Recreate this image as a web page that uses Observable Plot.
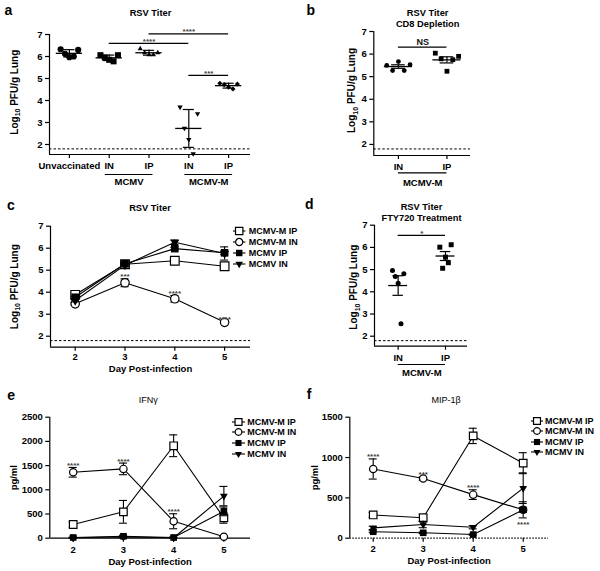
<!DOCTYPE html>
<html>
<head>
<meta charset="utf-8">
<script src="https://cdn.jsdelivr.net/npm/d3@7"></script>
<script src="https://cdn.jsdelivr.net/npm/@observablehq/plot@0.6"></script>
<style>
html,body{margin:0;padding:0;background:#fff;}
#fig{position:relative;width:600px;height:571px;background:#fff;overflow:hidden;font-family:Arial,"Liberation Sans",Helvetica,sans-serif;}
.panel{position:absolute;}
.panel svg{display:block;overflow:visible;}
.legend{position:absolute;font-size:9px;font-weight:bold;color:#000;font-family:Arial,"Liberation Sans",Helvetica,sans-serif;}
.legend .row{position:absolute;left:0;height:12px;line-height:12px;display:flex;align-items:center;white-space:nowrap;}
</style>
</head>
<body>
<div id="fig"></div>
<script>
// ================= DATA =================
const limitOfDetection = 1.8;

// Panel a — RSV titer (log10 PFU/g lung)
const aLabels = ["Unvaccinated", "IN", "IP", "IN", "IP"];
const aUnvaccinated = [6.33, 6.12, 5.97, 6.00, 6.30];
const aMCMV_IN = [6.06, 5.95, 5.85, 5.78, 6.06];
const aMCMV_IP = [6.35, 6.17, 6.08, 6.08, 6.17];
const aMCMVM_IN = [3.70, 2.74, 2.23, 1.58, 3.40];
const aMCMVM_IP = [4.78, 4.72, 4.60, 4.52, 4.75];
const aGroupLabels = ["MCMV", "MCMV-M"];
const aGroupFrom = [1, 3];
const aGroupTo = [2, 4];
const aSigFrom = [1, 2, 3];
const aSigTo = [3, 4, 4];
const aSigLevel = [6.6, 7.03, 5.14];
const aSigText = ["****", "****", "***"];

// Panel b — CD8 depletion
const bLabels = ["IN", "IP"];
const bIN = [5.50, 5.27, 5.67, 5.27, 5.53];
const bIP = [6.04, 5.79, 5.24, 5.75, 5.90];
const bSigLevel = [6.31];
const bSigText = ["NS"];

// Panel d — FTY720 treatment
const dLabels = ["IN", "IP"];
const dIN = [4.96, 4.69, 4.39, 2.56, 4.81];
const dIP = [6.01, 5.06, 5.56, 5.31, 6.12];
const dSigLevel = [6.54];
const dSigText = ["*"];

// Line panels
const days = [2, 3, 4, 5];
const seriesNames = ["MCMV-M IP", "MCMV-M IN", "MCMV IP", "MCMV IN"];

// Panel c — RSV titer by day (mean, error)
const cMMIP = [3.88, 5.27, 5.43, 5.18];
const cMMIPerr = [0.08, 0.07, 0.08, 0.08];
const cMMIN = [3.47, 4.43, 3.70, 2.63];
const cMMINerr = [0.05, 0.18, 0.15, 0.05];
const cMIP = [3.77, 5.29, 5.98, 5.79];
const cMIPerr = [0.05, 0.06, 0.06, 0.08];
const cMIN = [3.62, 5.23, 6.27, 5.76];
const cMINerr = [0.06, 0.05, 0.10, 0.30];
const cStarDay = [3, 4, 5];
const cStarText = ["***", "****", "****"];

// Panel e — IFNγ (pg/ml)
const eMMIP = [283, 545, 1910, 420];
const eMMIPerr = [55, 235, 225, 110];
const eMMIN = [1362, 1432, 350, 30];
const eMMINerr = [100, 120, 155, 10];
const eMIP = [15, 40, 15, 555];
const eMIPerr = [8, 20, 8, 90];
const eMIN = [10, 25, 10, 870];
const eMINerr = [5, 15, 5, 200];
const eStarDay = [2, 3, 4];
const eStarText = ["****", "****", "****"];

// Panel f — MIP-1β (pg/ml)
const fMMIP = [288, 253, 1268, 930];
const fMMIPerr = [30, 45, 95, 130];
const fMMIN = [858, 740, 540, 352];
const fMMINerr = [125, 20, 60, 100];
const fMIP = [80, 67, 45, 352];
const fMIPerr = [12, 10, 8, 30];
const fMIN = [128, 170, 136, 620];
const fMINerr = [20, 40, 20, 190];
const fStarDay = [2, 3, 4, 5];
const fStarText = ["****", "***", "****", "****"];
const fStarBelow = [false, false, false, true];

// ================= HELPERS =================
const FONT = 'Arial, "Liberation Sans", Helvetica, sans-serif';
const fig = document.getElementById("fig");
const baseStyle = {fontFamily: FONT, fontSize: "9.5px", fontWeight: "bold", overflow: "visible", color: "black", background: "transparent"};

function mount(node, left, top, width) {
  const d = document.createElement("div");
  d.className = "panel";
  d.style.left = left + "px";
  d.style.top = top + "px";
  d.style.width = width + "px";
  d.appendChild(node);
  fig.appendChild(d);
}

function fixLog(svg) {
  d3.select(svg).selectAll("text")
    .filter(function () { return this.textContent === "Log10 PFU/g Lung"; })
    .each(function () {
      const t = d3.select(this);
      t.text(null);
      t.append("tspan").text("Log");
      t.append("tspan").attr("dy", 2.6).attr("font-size", 7).text("10");
      t.append("tspan").attr("dy", -2.6).text(" PFU/g Lung");
    });
}

function frameText(text, o) {
  return Plot.text([text], {
    text: d => d, frameAnchor: o.anchor || "top", dx: o.dx || 0, dy: o.dy || 0,
    fontSize: o.size || 9.3, fontWeight: o.weight || "bold", textAnchor: "middle",
    lineAnchor: "middle", rotate: o.rotate || 0, fill: "black"
  });
}

function stats(values, kind) {
  const m = d3.mean(values), sd = d3.deviation(values);
  const e = kind === "sd" ? sd : sd / Math.sqrt(values.length);
  return {m, lo: m - e, hi: m + e};
}

function decor(p) {
  const marks = [];
  (p.titles || []).forEach(t => marks.push(frameText(t.text, {anchor: "top", dx: t.dx, dy: t.dy, size: t.size || 9.3, weight: t.weight || "bold"})));
  marks.push(frameText(p.letter.text, {anchor: "top-left", dx: p.letter.dx, dy: p.letter.dy, size: 14}));
  marks.push(frameText(p.ylabel.text, {anchor: "left", dx: p.ylabel.dx, dy: p.ylabel.dy, size: p.ylabel.size || 10, rotate: -90}));
  if (p.xlabel) marks.push(frameText(p.xlabel.text, {anchor: "bottom", dy: p.xlabel.dy, size: 9.5}));
  return marks;
}

function scatterPanel(p) {
  const x0 = p.xDomain[0], y0 = p.yDomain[0];
  const marks = [];
  marks.push(Plot.ruleY([limitOfDetection], {stroke: "black", strokeWidth: 1, strokeDasharray: "2.5,2"}));
  marks.push(Plot.ruleX([x0], {stroke: "black", strokeWidth: 1.2}));
  marks.push(Plot.ruleY([y0], {stroke: "black", strokeWidth: 1.2}));
  marks.push(Plot.axisX({ticks: d3.range(p.labels.length), tickFormat: i => p.labels[i], tickSize: 4, tickPadding: p.xPad, label: null, strokeWidth: 1.2}));
  marks.push(Plot.axisY({ticks: [2, 3, 4, 5, 6, 7], tickFormat: d3.format("d"), tickSize: 4, tickPadding: 3, label: null, strokeWidth: 1.2}));
  p.groups.forEach((gr, g) => {
    const n = gr.values.length;
    const pts = gr.values.map((v, j) => ({x: g + (j - (n - 1) / 2) * p.jitter, y: v}));
    marks.push(Plot.dot(pts, {x: "x", y: "y", symbol: gr.symbol, r: gr.r, fill: "black", rotate: gr.rotate || 0}));
  });
  p.groups.forEach((gr, g) => {
    const s = Object.assign({g}, stats(gr.values, p.err));
    marks.push(Plot.ruleY([s], {y: "m", x1: d => d.g - p.meanHalf, x2: d => d.g + p.meanHalf, stroke: "black", strokeWidth: 1.3}));
    marks.push(Plot.ruleX([s], {x: "g", y1: "lo", y2: "hi", stroke: "black", strokeWidth: 1.2}));
    marks.push(Plot.ruleY([s, s], {y: (d, i) => i ? d.hi : d.lo, x1: d => d.g - p.capHalf, x2: d => d.g + p.capHalf, stroke: "black", strokeWidth: 1.2}));
  });
  // significance bars
  marks.push(Plot.ruleY(p.sig, {y: "level", x1: "from", x2: "to", stroke: "black", strokeWidth: 1.2}));
  marks.push(Plot.text(p.sig, {x: d => (d.from + d.to) / 2, y: "level", text: "text", lineAnchor: "bottom", dy: p.sigDy, fontSize: p.sigSize, fontWeight: p.sigWeight, fill: p.sigFill}));
  // group spans under axis
  marks.push(Plot.ruleY(p.spans, {y: () => y0, x1: d => d.from - p.spanPad, x2: d => d.to + p.spanPad, dy: p.spanDy, stroke: "black", strokeWidth: 1.2}));
  marks.push(Plot.text(p.spans, {x: d => (d.from + d.to) / 2, y: () => y0, text: "label", dy: p.spanLabelDy, lineAnchor: "middle", fontSize: 9.5, fontWeight: "bold", fill: "black"}));
  marks.push(...decor(p));
  const svg = Plot.plot({
    width: p.width, height: p.height,
    marginLeft: p.mL, marginRight: p.mR, marginTop: p.mT, marginBottom: p.mB,
    x: {type: "linear", domain: p.xDomain, label: null},
    y: {type: "linear", domain: p.yDomain, label: null},
    style: baseStyle,
    marks
  });
  fixLog(svg);
  mount(svg, p.left, p.top, p.width);
}

const seriesStyle = [
  {symbol: "square", sym: d3.symbolSquare, r: 4.9, open: true, rotate: 0},
  {symbol: "circle", sym: d3.symbolCircle, r: 4.2, open: true, rotate: 0},
  {symbol: "square", sym: d3.symbolSquare, r: 4.3, open: false, rotate: 0},
  {symbol: "triangle", sym: d3.symbolTriangle, r: 3.3, open: false, rotate: 180}
];

function linePanel(p) {
  const y0 = p.yDomain[0], x0 = p.xDomain[0];
  const marks = [];
  marks.push(Plot.ruleX([x0], {stroke: "black", strokeWidth: 1.2}));
  if (p.baseline === "dotted") marks.push(Plot.ruleY([y0], {stroke: "black", strokeWidth: 1.2, strokeDasharray: "1.5,1.5"}));
  else marks.push(Plot.ruleY([y0], {stroke: "black", strokeWidth: 1.2}));
  if (p.lod) marks.push(Plot.ruleY([limitOfDetection], {stroke: "black", strokeWidth: 1, strokeDasharray: "2.5,2"}));
  marks.push(Plot.axisX({ticks: days, tickFormat: d3.format("d"), tickSize: 4, tickPadding: p.xPad, label: null, strokeWidth: 1.2}));
  marks.push(Plot.axisY({ticks: p.yTicks, tickFormat: d3.format("d"), tickSize: 4, tickPadding: 3, label: null, strokeWidth: 1.2}));
  const rows = p.series.map(s => days.map((day, i) => ({day, v: s.values[i], lo: s.values[i] - s.err[i], hi: s.values[i] + s.err[i]})));
  rows.forEach(r => marks.push(Plot.line(r, {x: "day", y: "v", stroke: "black", strokeWidth: 1.1})));
  rows.forEach((r, k) => {
    const st = seriesStyle[k];
    marks.push(Plot.ruleX(r, {x: "day", y1: "lo", y2: "hi", stroke: "black", strokeWidth: 1.1}));
    marks.push(Plot.ruleY(r, {y: "lo", x1: d => d.day - p.cap, x2: d => d.day + p.cap, stroke: "black", strokeWidth: 1.1}));
    marks.push(Plot.ruleY(r, {y: "hi", x1: d => d.day - p.cap, x2: d => d.day + p.cap, stroke: "black", strokeWidth: 1.1}));
    marks.push(Plot.dot(r, {x: "day", y: "v", symbol: st.symbol, r: st.r * p.ms, rotate: st.rotate,
      fill: st.open ? "white" : "black", stroke: st.open ? "black" : "none", strokeWidth: 1.2}));
  });
  // significance stars relative to MCMV-M IN error bars
  const ref = rows[1];
  const stars = p.starDay.map((day, i) => {
    const r = ref[days.indexOf(day)];
    const below = p.starBelow ? p.starBelow[i] : false;
    return {day, text: p.starText[i], below, y: below ? r.lo : r.hi};
  });
  marks.push(Plot.text(stars.filter(d => !d.below), {x: "day", y: "y", text: "text", lineAnchor: "bottom", dy: 0.5, fontSize: 8, fontWeight: "bold", fill: "#444"}));
  marks.push(Plot.text(stars.filter(d => d.below), {x: "day", y: "y", text: "text", lineAnchor: "top", dy: 3, fontSize: 8, fontWeight: "bold", fill: "#444"}));
  marks.push(...decor(p));
  const svg = Plot.plot({
    width: p.width, height: p.height,
    marginLeft: p.mL, marginRight: p.mR, marginTop: p.mT, marginBottom: p.mB,
    x: {type: "linear", domain: p.xDomain, label: null},
    y: {type: "linear", domain: p.yDomain, label: null},
    style: baseStyle,
    marks
  });
  fixLog(svg);
  mount(svg, p.left, p.top, p.width);
  legend(p.legend);
}

function legend(L) {
  const box = document.createElement("div");
  box.className = "legend";
  box.style.left = L.left + "px";
  box.style.top = L.top + "px";
  seriesNames.forEach((name, i) => {
    const st = seriesStyle[i];
    const row = document.createElement("div");
    row.className = "row";
    row.style.top = (i * L.spacing - 6) + "px";
    const svg = d3.create("svg").attr("width", L.textX).attr("height", 12).style("display", "block").style("overflow", "visible").style("flex", "none");
    svg.append("line").attr("x1", 0).attr("x2", 2 * L.markerX).attr("y1", 6).attr("y2", 6).attr("stroke", "black").attr("stroke-width", 1.1);
    const rr = st.r * L.ms;
    svg.append("path").attr("d", d3.symbol(st.sym, Math.PI * rr * rr)())
      .attr("transform", `translate(${L.markerX},6) rotate(${st.rotate})`)
      .attr("fill", st.open ? "white" : "black").attr("stroke", st.open ? "black" : "none").attr("stroke-width", 1.2);
    row.appendChild(svg.node());
    const span = document.createElement("span");
    span.textContent = name;
    row.appendChild(span);
    box.appendChild(row);
  });
  fig.appendChild(box);
}

// ================= PANELS =================
scatterPanel({
  left: 0, top: 0, width: 300, height: 190, mL: 49, mR: 50, mT: 34, mB: 36,
  xDomain: [-0.5, 4.55], yDomain: [1.545, 7], labels: aLabels, xPad: 3.5,
  groups: [
    {values: aUnvaccinated, symbol: "circle", r: 3.1},
    {values: aMCMV_IN, symbol: "square", r: 3.4},
    {values: aMCMV_IP, symbol: "triangle", r: 1.9},
    {values: aMCMVM_IN, symbol: "triangle", r: 2.0, rotate: 180},
    {values: aMCMVM_IP, symbol: "diamond2", r: 2.3}
  ],
  err: "sd", jitter: 0.11, meanHalf: 0.33, capHalf: 0.14,
  sig: aSigLevel.map((level, i) => ({level, from: aSigFrom[i], to: aSigTo[i], text: aSigText[i]})),
  sigDy: 0.5, sigSize: 8, sigWeight: "bold", sigFill: "#444",
  spans: aGroupLabels.map((label, i) => ({label, from: aGroupFrom[i], to: aGroupTo[i]})),
  spanPad: 0.1, spanDy: 20, spanLabelDy: 27.3,
  titles: [{text: "RSV Titer", dx: 0.5, dy: -21.2}],
  letter: {text: "a", dx: -41.2, dy: -23.5},
  ylabel: {text: "Log10 PFU/g Lung", dx: -35, dy: -2.3}
});

scatterPanel({
  left: 300, top: 0, width: 300, height: 190, mL: 73.3, mR: 130, mT: 31, mB: 35,
  xDomain: [-0.507, 1.485], yDomain: [1.51, 7], labels: bLabels, xPad: 3.7,
  groups: [
    {values: bIN, symbol: "circle", r: 2.4},
    {values: bIP, symbol: "square", r: 2.7}
  ],
  err: "sem", jitter: 0.12, meanHalf: 0.29, capHalf: 0.14,
  sig: bSigLevel.map((level, i) => ({level, from: 0, to: 1, text: bSigText[i]})),
  sigDy: -2.5, sigSize: 9, sigWeight: "bold", sigFill: "#111",
  spans: [{label: "MCMV-M", from: 0, to: 1}],
  spanPad: 0, spanDy: 17.3, spanLabelDy: 27,
  titles: [{text: "RSV Titer", dx: 5.5, dy: -18.2}, {text: "CD8 Depletion", dx: 5.5, dy: -7.5}],
  letter: {text: "b", dx: -63, dy: -21},
  ylabel: {text: "Log10 PFU/g Lung", dx: -21.6, dy: -3}
});

linePanel({
  left: 0, top: 190, width: 300, height: 190, mL: 50, mR: 50, mT: 35.7, mB: 33.3,
  xDomain: [1.504, 5.52], yDomain: [1.5, 7], yTicks: [2, 3, 4, 5, 6, 7], xPad: 1.8, lod: true,
  series: [
    {values: cMMIP, err: cMMIPerr}, {values: cMMIN, err: cMMINerr},
    {values: cMIP, err: cMIPerr}, {values: cMIN, err: cMINerr}
  ],
  ms: 1, cap: 0.08, starDay: cStarDay, starText: cStarText,
  titles: [{text: "RSV Titer", dx: -0.5, dy: -17.9}],
  letter: {text: "c", dx: -39.7, dy: -20.7},
  ylabel: {text: "Log10 PFU/g Lung", dx: -36, dy: 0},
  xlabel: {text: "Day Post-infection", dy: 21.8},
  legend: {left: 233.3, top: 230.7, spacing: 11.1, markerX: 6.2, textX: 15.4, ms: 0.85}
});

scatterPanel({
  left: 300, top: 190, width: 300, height: 190, mL: 74, mR: 133, mT: 34.7, mB: 34.3,
  xDomain: [-0.5, 1.465], yDomain: [1.55, 7], labels: dLabels, xPad: 3.6,
  groups: [
    {values: dIN, symbol: "circle", r: 2.5},
    {values: dIP, symbol: "square", r: 2.8}
  ],
  err: "sem", jitter: 0.06, meanHalf: 0.2, capHalf: 0.11,
  sig: dSigLevel.map((level, i) => ({level, from: 0, to: 1, text: dSigText[i]})),
  sigDy: 0.5, sigSize: 8, sigWeight: "bold", sigFill: "#444",
  spans: [{label: "MCMV-M", from: 0, to: 1}],
  spanPad: 0, spanDy: 18.3, spanLabelDy: 27.1,
  titles: [{text: "RSV Titer", dx: 0.5, dy: -18.4}, {text: "FTY720 Treatment", dx: 0.5, dy: -6.7}],
  letter: {text: "d", dx: -65.2, dy: -20.9},
  ylabel: {text: "Log10 PFU/g Lung", dx: -20.7, dy: 1.5}
});

linePanel({
  left: 0, top: 380, width: 300, height: 191, mL: 49.3, mR: 50, mT: 36.7, mB: 33.3,
  xDomain: [1.534, 5.53], yDomain: [0, 2500], yTicks: [0, 500, 1000, 1500, 2000, 2500], xPad: 4.5, lod: false,
  series: [
    {values: eMMIP, err: eMMIPerr}, {values: eMMIN, err: eMMINerr},
    {values: eMIP, err: eMIPerr}, {values: eMIN, err: eMINerr}
  ],
  ms: 0.87, cap: 0.08, starDay: eStarDay, starText: eStarText,
  titles: [{text: "IFNγ", dx: -2, dy: -17, size: 9, weight: "normal"}],
  letter: {text: "e", dx: -38.6, dy: -21.7},
  ylabel: {text: "pg/ml", dx: -36.3, dy: 0, size: 9.5},
  xlabel: {text: "Day Post-infection", dy: 23.3},
  legend: {left: 232.3, top: 421.7, spacing: 10.8, markerX: 6.5, textX: 15, ms: 0.8}
});

linePanel({
  left: 300, top: 380, width: 300, height: 191, mL: 49.3, mR: 52, mT: 36.7, mB: 33.3,
  xDomain: [1.532, 5.506], yDomain: [0, 1500], yTicks: [0, 500, 1000, 1500], xPad: 3.5, lod: false, baseline: "dotted",
  series: [
    {values: fMMIP, err: fMMIPerr}, {values: fMMIN, err: fMMINerr},
    {values: fMIP, err: fMIPerr}, {values: fMIN, err: fMINerr}
  ],
  ms: 0.87, cap: 0.08, starDay: fStarDay, starText: fStarText, starBelow: fStarBelow,
  titles: [{text: "MIP-1β", dx: -3, dy: -17.4, size: 9, weight: "normal"}],
  letter: {text: "f", dx: -40.6, dy: -22.5},
  ylabel: {text: "pg/ml", dx: -35.3, dy: 0, size: 9.5},
  xlabel: {text: "Day Post-infection", dy: 22.8},
  legend: {left: 530.7, top: 420.7, spacing: 10.5, markerX: 6, textX: 14.3, ms: 0.8}
});
</script>
</body>
</html>
